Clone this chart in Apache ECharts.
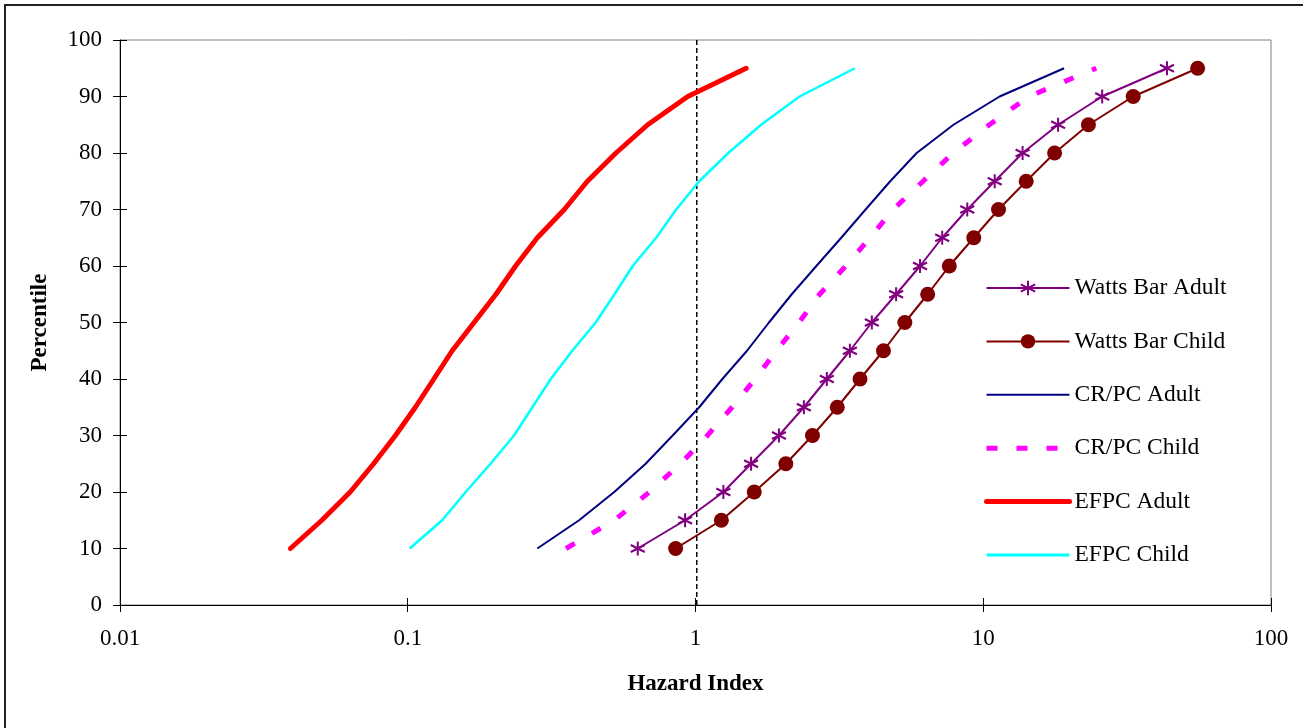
<!DOCTYPE html>
<html>
<head>
<meta charset="utf-8">
<script src="https://cdn.jsdelivr.net/npm/echarts@6/dist/echarts.min.js"></script>
<style>
html,body{margin:0;padding:0;background:#fff;}
#chart{width:1303px;height:728px;}
</style>
</head>
<body>
<div id="chart"></div>
<script>
const percentiles = [10,15,20,25,30,35,40,45,50,55,60,65,70,75,80,85,90,95];
const wattsBarAdult = [0.63,0.92,1.25,1.56,1.95,2.38,2.86,3.44,4.10,4.98,6.03,7.20,8.80,10.96,13.7,18.2,25.9,43.5];
const wattsBarChild = [0.853,1.23,1.60,2.06,2.55,3.11,3.73,4.50,5.34,6.41,7.62,9.27,11.3,14.1,17.7,23.2,33.2,55.6];
const crpcAdult = [0.282,0.394,0.522,0.671,0.833,1.03,1.24,1.51,1.80,2.16,2.63,3.21,3.90,4.75,5.87,7.88,11.4,19.1];
const crpcChild = [0.355,0.522,0.692,0.887,1.10,1.34,1.61,1.91,2.29,2.70,3.33,4.04,4.86,6.18,7.86,10.5,14.4,24.7];
const efpcAdult = [0.0391,0.0503,0.0631,0.0761,0.0906,0.1063,0.1232,0.1427,0.170,0.2026,0.237,0.282,0.350,0.421,0.529,0.682,0.940,1.50];
const efpcChild = [0.1016,0.1317,0.159,0.194,0.234,0.271,0.314,0.373,0.450,0.523,0.605,0.730,0.857,1.03,1.30,1.69,2.30,3.58];
const refLineX = [1.01, 1.01];
const refLineY = [0, 100];
const xTicks = [0.01, 0.1, 1, 10, 100];
const seriesNames = ['Watts Bar Adult','Watts Bar Child','CR/PC Adult','CR/PC Child','EFPC Adult','EFPC Child'];

const pair = (xs) => xs.map((v, i) => [v, percentiles[i]]);
const FONT = 'Liberation Serif';
const starPath = 'path://M0,-10L0,10M-8.7,-5L8.7,5M-8.7,5L8.7,-5';
const CLEAR = 'rgba(0,0,0,0)';

const chart = echarts.init(document.getElementById('chart'));
const option = {
  animation: false,
  backgroundColor: '#fff',
  graphic: [{
    type: 'rect', silent: true, z: -10,
    shape: {x: 5, y: 5, width: 1400, height: 800},
    style: {fill: 'none', stroke: '#222', lineWidth: 2}
  }],
  grid: {left: 120, right: 32, top: 40, bottom: 123, show: true, borderColor: '#808080', borderWidth: 1, backgroundColor: '#fff'},
  legend: {
    orient: 'vertical', left: 984, top: 276, padding: 0, itemWidth: 83, itemHeight: 18, itemGap: 29.4,
    textStyle: {fontFamily: FONT, fontSize: 23.5, color: '#000'},
    data: [
      {name: seriesNames[0]},
      {name: seriesNames[1]},
      {name: seriesNames[2], lineStyle: {width: 2}},
      {name: seriesNames[3], lineStyle: {width: 5, type: [11, 19]}},
      {name: seriesNames[4], lineStyle: {width: 5, cap: 'round'}},
      {name: seriesNames[5], lineStyle: {width: 3}}
    ]
  },
  xAxis: [{
    type: 'log', logBase: 10, min: xTicks[0], max: xTicks[xTicks.length-1], position: 'bottom',
    name: 'Hazard Index', nameLocation: 'middle', nameGap: 68,
    nameTextStyle: {fontFamily: FONT, fontSize: 23, fontWeight: 'bold', color: '#000'},
    axisLine: {onZero: false, lineStyle: {color: '#000', width: 1}},
    axisTick: {show: true, length: 7, lineStyle: {color: '#000'}},
    minorTick: {show: false},
    splitLine: {show: false},
    axisLabel: {fontFamily: FONT, fontSize: 23, color: '#000', margin: 22,
      formatter: (v) => { const t = xTicks.find(k => Math.abs(Math.log10(k) - Math.log10(v)) < 1e-6); return t === undefined ? '' : String(t); }}
  }, {
    type: 'log', logBase: 10, min: xTicks[0], max: xTicks[xTicks.length-1], position: 'bottom',
    axisLine: {show: false, onZero: false},
    axisTick: {show: true, inside: true, length: 7, lineStyle: {color: '#000'}},
    axisLabel: {show: false}, splitLine: {show: false}
  }],
  yAxis: [{
    type: 'value', min: 0, max: 100, interval: 10, position: 'left',
    name: 'Percentile', nameLocation: 'middle', nameGap: 68,
    nameTextStyle: {fontFamily: FONT, fontSize: 23, fontWeight: 'bold', color: '#000'},
    axisLine: {show: true, onZero: false, lineStyle: {color: '#000', width: 1}},
    axisTick: {show: true, length: 7, lineStyle: {color: '#000'}},
    splitLine: {show: false},
    axisLabel: {fontFamily: FONT, fontSize: 23, color: '#000', margin: 18}
  }, {
    type: 'value', min: 0, max: 100, interval: 10, position: 'left',
    axisLine: {show: false, onZero: false},
    axisTick: {show: true, inside: true, length: 7, lineStyle: {color: '#000'}},
    axisLabel: {show: false}, splitLine: {show: false}
  }],
  series: [
    {
      name: 'ref', type: 'line', data: refLineX.map((v, i) => [v, refLineY[i]]),
      symbol: 'none', silent: true, z: 1,
      lineStyle: {color: '#000', width: 1.5, type: [5, 3]}
    },
    {
      name: seriesNames[0], type: 'line', data: pair(wattsBarAdult), z: 5,
      color: '#800080', symbol: starPath, symbolSize: 14,
      itemStyle: {color: '#800080', borderColor: '#800080', borderWidth: 2},
      lineStyle: {color: '#800080', width: 2}
    },
    {
      name: seriesNames[1], type: 'line', data: pair(wattsBarChild), z: 5,
      color: '#800000', symbol: 'circle', symbolSize: 15,
      itemStyle: {color: '#800000', borderWidth: 0},
      lineStyle: {color: '#800000', width: 2}
    },
    {
      name: seriesNames[2], type: 'line', data: pair(crpcAdult), z: 4,
      symbol: 'circle', showSymbol: false,
      itemStyle: {color: CLEAR, borderColor: CLEAR, borderWidth: 0},
      lineStyle: {color: '#000080', width: 2}
    },
    {
      name: seriesNames[3], type: 'line', data: pair(crpcChild), z: 4,
      symbol: 'circle', showSymbol: false,
      itemStyle: {color: CLEAR, borderColor: CLEAR, borderWidth: 0},
      lineStyle: {color: '#FF00FF', width: 5, type: [10, 20]}
    },
    {
      name: seriesNames[4], type: 'line', data: pair(efpcAdult), z: 4,
      symbol: 'circle', showSymbol: false,
      itemStyle: {color: CLEAR, borderColor: CLEAR, borderWidth: 0},
      lineStyle: {color: '#FF0000', width: 5, cap: 'round'}
    },
    {
      name: seriesNames[5], type: 'line', data: pair(efpcChild), z: 4,
      symbol: 'circle', showSymbol: false,
      itemStyle: {color: CLEAR, borderColor: CLEAR, borderWidth: 0},
      lineStyle: {color: '#00FFFF', width: 2.5}
    }
  ]
};
chart.setOption(option);
</script>
</body>
</html>
